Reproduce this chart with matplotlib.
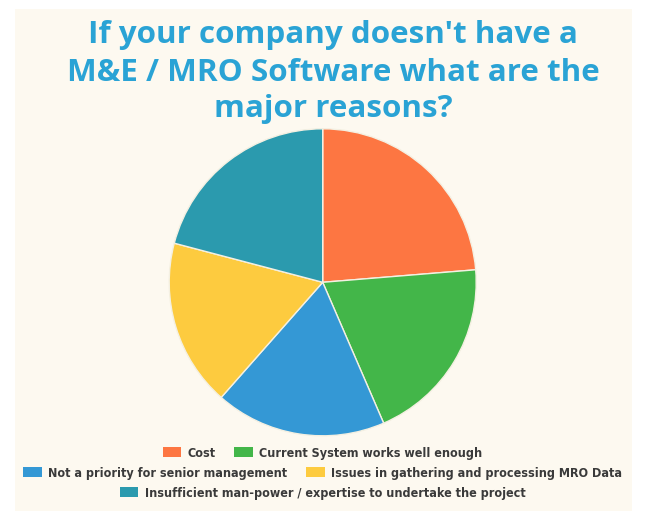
import matplotlib.pyplot as plt
from matplotlib.patches import Rectangle

W, H = 645, 511

title_lines = [
    "If your company doesn't have a",
    "M&E / MRO Software what are the",
    "major reasons?",
]
reasons = [
    "Cost",
    "Current System works well enough",
    "Not a priority for senior management",
    "Issues in gathering and processing MRO Data",
    "Insufficient man-power / expertise to undertake the project",
]
shares = [23.7, 19.8, 18.0, 17.6, 20.9]
colors = ["#fd7642", "#43b649", "#3498d5", "#fdcb3f", "#2b9aae"]

# legend rows as drawn under the pie
legend_rows = [[0, 1], [2, 3], [4]]

fig = plt.figure(figsize=(W / 100, H / 100), dpi=100)
fig.patch.set_facecolor("white")

# cream card behind everything
fig.patches.append(Rectangle((15 / W, 0), 617 / W, 1 - 9 / H,
                             transform=fig.transFigure, facecolor="#fdf9f0",
                             edgecolor="none", zorder=-5))

for line, base in zip(title_lines, [43, 81, 117]):
    fig.text(333 / W, 1 - base / H, line, ha="center", va="baseline",
             fontsize=22.6, fontweight="bold", color="#2aa3d5",
             family=["Open Sans", "DejaVu Sans"])

cx, cy, r = 322.7, 282.3, 153.5
ax = fig.add_axes([(cx - r) / W, 1 - (cy + r) / H, 2 * r / W, 2 * r / H])
ax.set_zorder(2)
wedges, _ = ax.pie(shares, colors=colors, startangle=90, counterclock=False,
                   wedgeprops=dict(edgecolor="#f4f0e2", linewidth=1.0))
ax.set_xlim(-1, 1)
ax.set_ylim(-1, 1)
ax.axis("off")

row_y = [453, 473, 493]
for idx, row in enumerate(legend_rows):
    leg = fig.legend([wedges[i] for i in row], [reasons[i] for i in row],
                     loc="center", bbox_to_anchor=(0.5, 1 - row_y[idx] / H),
                     ncol=len(row), frameon=False, handlelength=1.5,
                     handleheight=0.8, handletextpad=0.5, columnspacing=1.5,
                     borderpad=0, prop=dict(family="DejaVu Sans", stretch="condensed",
                                            weight="bold", size=9))
    for t in leg.get_texts():
        t.set_color("#3a3a3a")
    for p in leg.get_patches():
        p.set_edgecolor("none")

fig.savefig("out.png", dpi=100)
